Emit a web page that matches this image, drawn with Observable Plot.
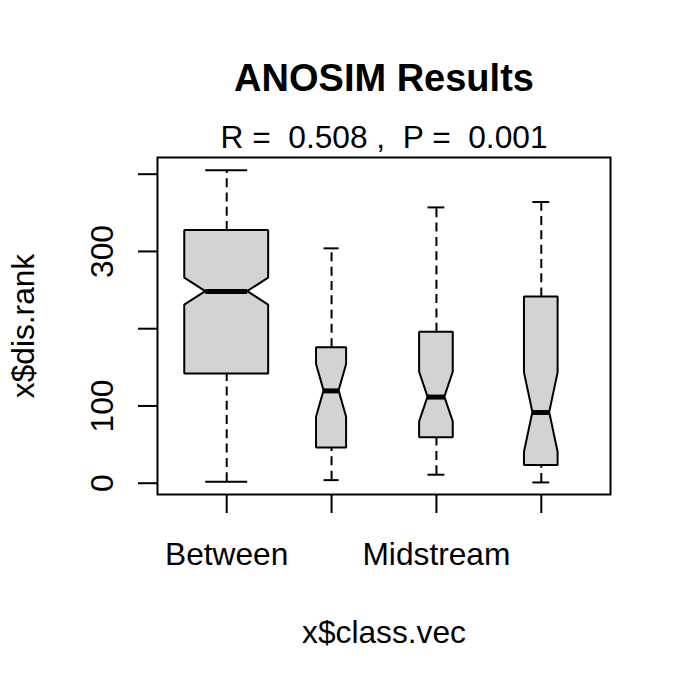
<!DOCTYPE html>
<html>
<head>
<meta charset="utf-8">
<script src="https://cdn.jsdelivr.net/npm/d3@7"></script>
<script src="https://cdn.jsdelivr.net/npm/@observablehq/plot@0.6"></script>
<style>
  html, body { margin: 0; padding: 0; background: #fff; }
</style>
</head>
<body>
<div id="chart"></div>
<script>
// ---- data ----
const classes    = ["Between", "Class 2", "Midstream", "Class 4"];
const xTickLabels = ["Between", "", "Midstream", ""];   // R drops overlapping labels
const nPairs     = [280, 36, 45, 45];
const whiskerLo  = [2, 4, 11, 1];
const q1         = [141.5, 45.5, 59, 23];
const median     = [248, 119.5, 111.5, 91.5];
const q3         = [327, 175.5, 195.5, 241];
const whiskerHi  = [405, 304, 357, 364];
const yTicks     = [0, 100, 200, 300, 400];
const yTickLabels = ["0", "100", "", "300", ""];
const titleText  = "ANOSIM Results";
const subText    = "R =  0.508 ,  P =  0.001";
const xLabel     = "x$class.vec";
const yLabel     = "x$dis.rank";

// ---- derived (R boxplot: varwidth + notch) ----
const maxSqrt = Math.sqrt(d3.max(nPairs));
const boxes = classes.map((c, i) => {
  const pos = i + 1;
  const hw = 0.4 * Math.sqrt(nPairs[i]) / maxSqrt;
  const nd = 1.58 * (q3[i] - q1[i]) / Math.sqrt(nPairs[i]);
  return {c, pos, hw, lo: whiskerLo[i], q1: q1[i], med: median[i], q3: q3[i], hi: whiskerHi[i],
          nlo: median[i] - nd, nhi: median[i] + nd};
});
// outline points of each notched box
const outline = boxes.flatMap(b => [
  {c: b.c, y: b.q1,  x1: b.pos - b.hw,   x2: b.pos + b.hw},
  {c: b.c, y: b.nlo, x1: b.pos - b.hw,   x2: b.pos + b.hw},
  {c: b.c, y: b.med, x1: b.pos - b.hw/2, x2: b.pos + b.hw/2},
  {c: b.c, y: b.nhi, x1: b.pos - b.hw,   x2: b.pos + b.hw},
  {c: b.c, y: b.q3,  x1: b.pos - b.hw,   x2: b.pos + b.hw}
]);

const lw = 2;
const dash = "9,5.3";
const fs = 31.7;

const chart = Plot.plot({
  width: 691,
  height: 691,
  marginTop: 157,
  marginRight: 81,
  marginBottom: 197,
  marginLeft: 157,
  style: {fontFamily: "'Liberation Sans', Arial, Helvetica, sans-serif", fontSize: fs + "px", background: "#fff", color: "#000"},
  x: {type: "linear", domain: [0.34, 4.66]},
  y: {type: "linear", domain: [-14.6, 421.6]},
  marks: [
    // whiskers
    Plot.ruleX(boxes, {x: "pos", y1: "q3", y2: "hi", stroke: "#000", strokeWidth: lw, strokeDasharray: dash}),
    Plot.ruleX(boxes, {x: "pos", y1: "lo", y2: "q1", stroke: "#000", strokeWidth: lw, strokeDasharray: dash}),
    // staples
    Plot.ruleY(boxes, {y: "hi", x1: d => d.pos - d.hw/2, x2: d => d.pos + d.hw/2, stroke: "#000", strokeWidth: lw}),
    Plot.ruleY(boxes, {y: "lo", x1: d => d.pos - d.hw/2, x2: d => d.pos + d.hw/2, stroke: "#000", strokeWidth: lw}),
    // notched boxes
    Plot.areaX(outline, {y: "y", x1: "x1", x2: "x2", z: "c", fill: "#d3d3d3", stroke: "#000", strokeWidth: lw, curve: "linear", strokeLinejoin: "miter"}),
    // medians
    Plot.ruleY(boxes, {y: "med", x1: d => d.pos - d.hw/2, x2: d => d.pos + d.hw/2, stroke: "#000", strokeWidth: 5}),
    Plot.frame({stroke: "#000", strokeWidth: lw}),
    // axes
    Plot.axisY({ticks: yTicks, tickSize: 19, tickPadding: 26, tickRotate: -90,
      tickFormat: d => yTickLabels[yTicks.indexOf(d)], label: null, strokeWidth: lw, fontSize: fs}),
    Plot.axisX({ticks: boxes.map(b => b.pos), tickSize: 19, tickPadding: 28.5,
      tickFormat: d => xTickLabels[d - 1], label: null, strokeWidth: lw, fontSize: fs}),
    // titles and axis labels
    Plot.text([titleText], {frameAnchor: "top", dy: -67, lineAnchor: "bottom", fontWeight: "bold", fontSize: 38, fill: "#000"}),
    Plot.text([subText], {frameAnchor: "top", dy: -10, lineAnchor: "bottom", fontSize: fs, fill: "#000"}),
    Plot.text([xLabel], {frameAnchor: "bottom", dy: 148, lineAnchor: "bottom", fontSize: fs, fill: "#000"}),
    Plot.text([yLabel], {frameAnchor: "left", dx: -123.5, rotate: -90, textAnchor: "middle", lineAnchor: "bottom", fontSize: fs, fill: "#000"})
  ]
});
document.getElementById("chart").appendChild(chart);
</script>
</body>
</html>
